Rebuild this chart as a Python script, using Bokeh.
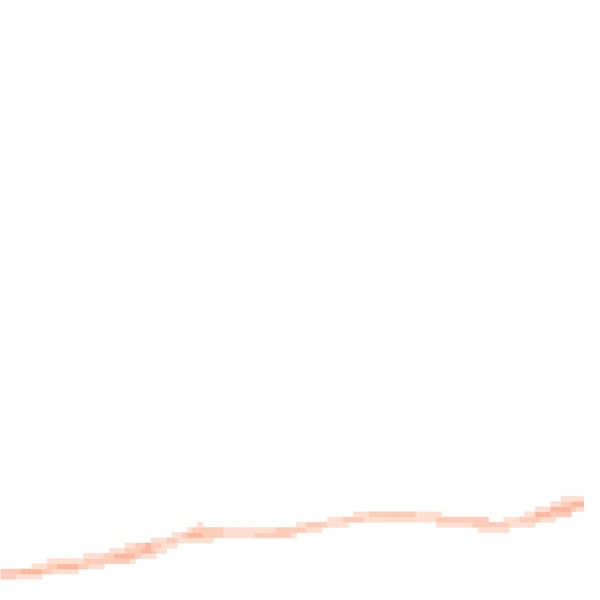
from bokeh.plotting import figure
from bokeh.models import ColumnDataSource, LinearColorMapper
from bokeh.palettes import Reds256
from bokeh.embed import file_html
from bokeh.resources import INLINE

# 2D-histogram band: each segment = (row bin, first column bin, levels of successive column bins)
seg_row = [0, 1, 2, 3, 4, 5, 6, 7, 8, 9, 10, 10, 10, 9, 11, 11, 12, 12, 13, 14, 15]
seg_col0 = [0, 0, 6, 9, 16, 21, 24, 29, 33, 36, 38, 57, 84, 92, 63, 97, 68, 101, 103, 106, 108]
seg_levels = [
    [2, 2, 2, 1, 1, 1, 1, 1],
    [2, 2, 2, 2, 3, 3, 3, 3, 2, 2, 1, 1, 1, 1, 1],
    [1, 1, 1, 2, 2, 3, 3, 3, 3, 2, 2, 1, 1, 1],
    [1, 1, 1, 1, 1, 1, 1, 2, 2, 2, 2, 2, 2, 2, 2, 2, 1],
    [1, 1, 1, 1, 2, 2, 3, 3, 3, 3, 2, 1, 1, 1],
    [1, 1, 1, 2, 2, 2, 3, 3, 2, 1, 1],
    [1, 1, 2, 2, 3, 2, 2, 1, 1, 1],
    [1, 1, 1, 2, 2, 1, 1, 1, 1, 1, 1, 1],
    [1, 1, 2, 3, 3, 3, 2, 2, 2, 2, 1, 1, 1, 1, 1, 1, 2, 2, 2, 2, 2, 2, 2, 1],
    [1, 2, 2, 2, 2, 2, 2, 1, 1, 1, 1, 1, 1, 1, 1, 1, 1, 2, 2, 2, 2, 2, 2, 1, 1, 1],
    [1],
    [1, 1, 2, 2, 2, 2, 1, 1, 1, 1],
    [1, 1, 1, 1, 1, 1, 1, 2, 2, 2, 2, 2, 2, 2, 1, 1, 1, 1, 1],
    [1, 1, 1, 1, 1, 1],
    [1, 1, 1, 2, 2, 2, 2] + [1] * 14 + [2] * 10,
    [1, 1, 1, 2, 2, 2, 2, 1, 1, 1],
    [1, 1, 1] + [2] * 9 + [1] * 5,
    [1, 1, 3, 3, 3, 2, 2, 2, 2],
    [1, 1, 1, 3, 3, 3, 3, 2, 1, 1],
    [1, 1, 2, 2, 3, 3, 3],
    [1, 1, 1, 1, 1],
]

left, right, bottom, top, val = [], [], [], [], []
for r, c0, levels in zip(seg_row, seg_col0, seg_levels):
    for i, v in enumerate(levels):
        c = c0 + i
        left.append(c)
        right.append(c + 1)
        bottom.append(r)
        top.append(r + 1)
        val.append(v)

src = ColumnDataSource(dict(left=left, right=right, bottom=bottom, top=top, val=val))

pal = list(Reds256)
# make palette run light -> dark
def lum(h):
    return int(h[1:3], 16) + int(h[3:5], 16) + int(h[5:7], 16)
if lum(pal[0]) < lum(pal[-1]):
    pal = pal[::-1]
mapper = LinearColorMapper(palette=pal, low=-1, high=14.4)

p = figure(width=584, height=584, x_range=(0, 112.5), y_range=(-1, 111.5),
           output_backend="svg", toolbar_location=None, min_border=0,
           x_axis_location=None, y_axis_location=None)
p.grid.visible = False
p.outline_line_color = None
p.background_fill_color = "white"
p.border_fill_color = "white"

p.quad(left="left", right="right", bottom="bottom", top="top", source=src,
       fill_color={"field": "val", "transform": mapper},
       line_color={"field": "val", "transform": mapper}, line_width=0.5)

open("out.html", "w").write(file_html(p, INLINE))
